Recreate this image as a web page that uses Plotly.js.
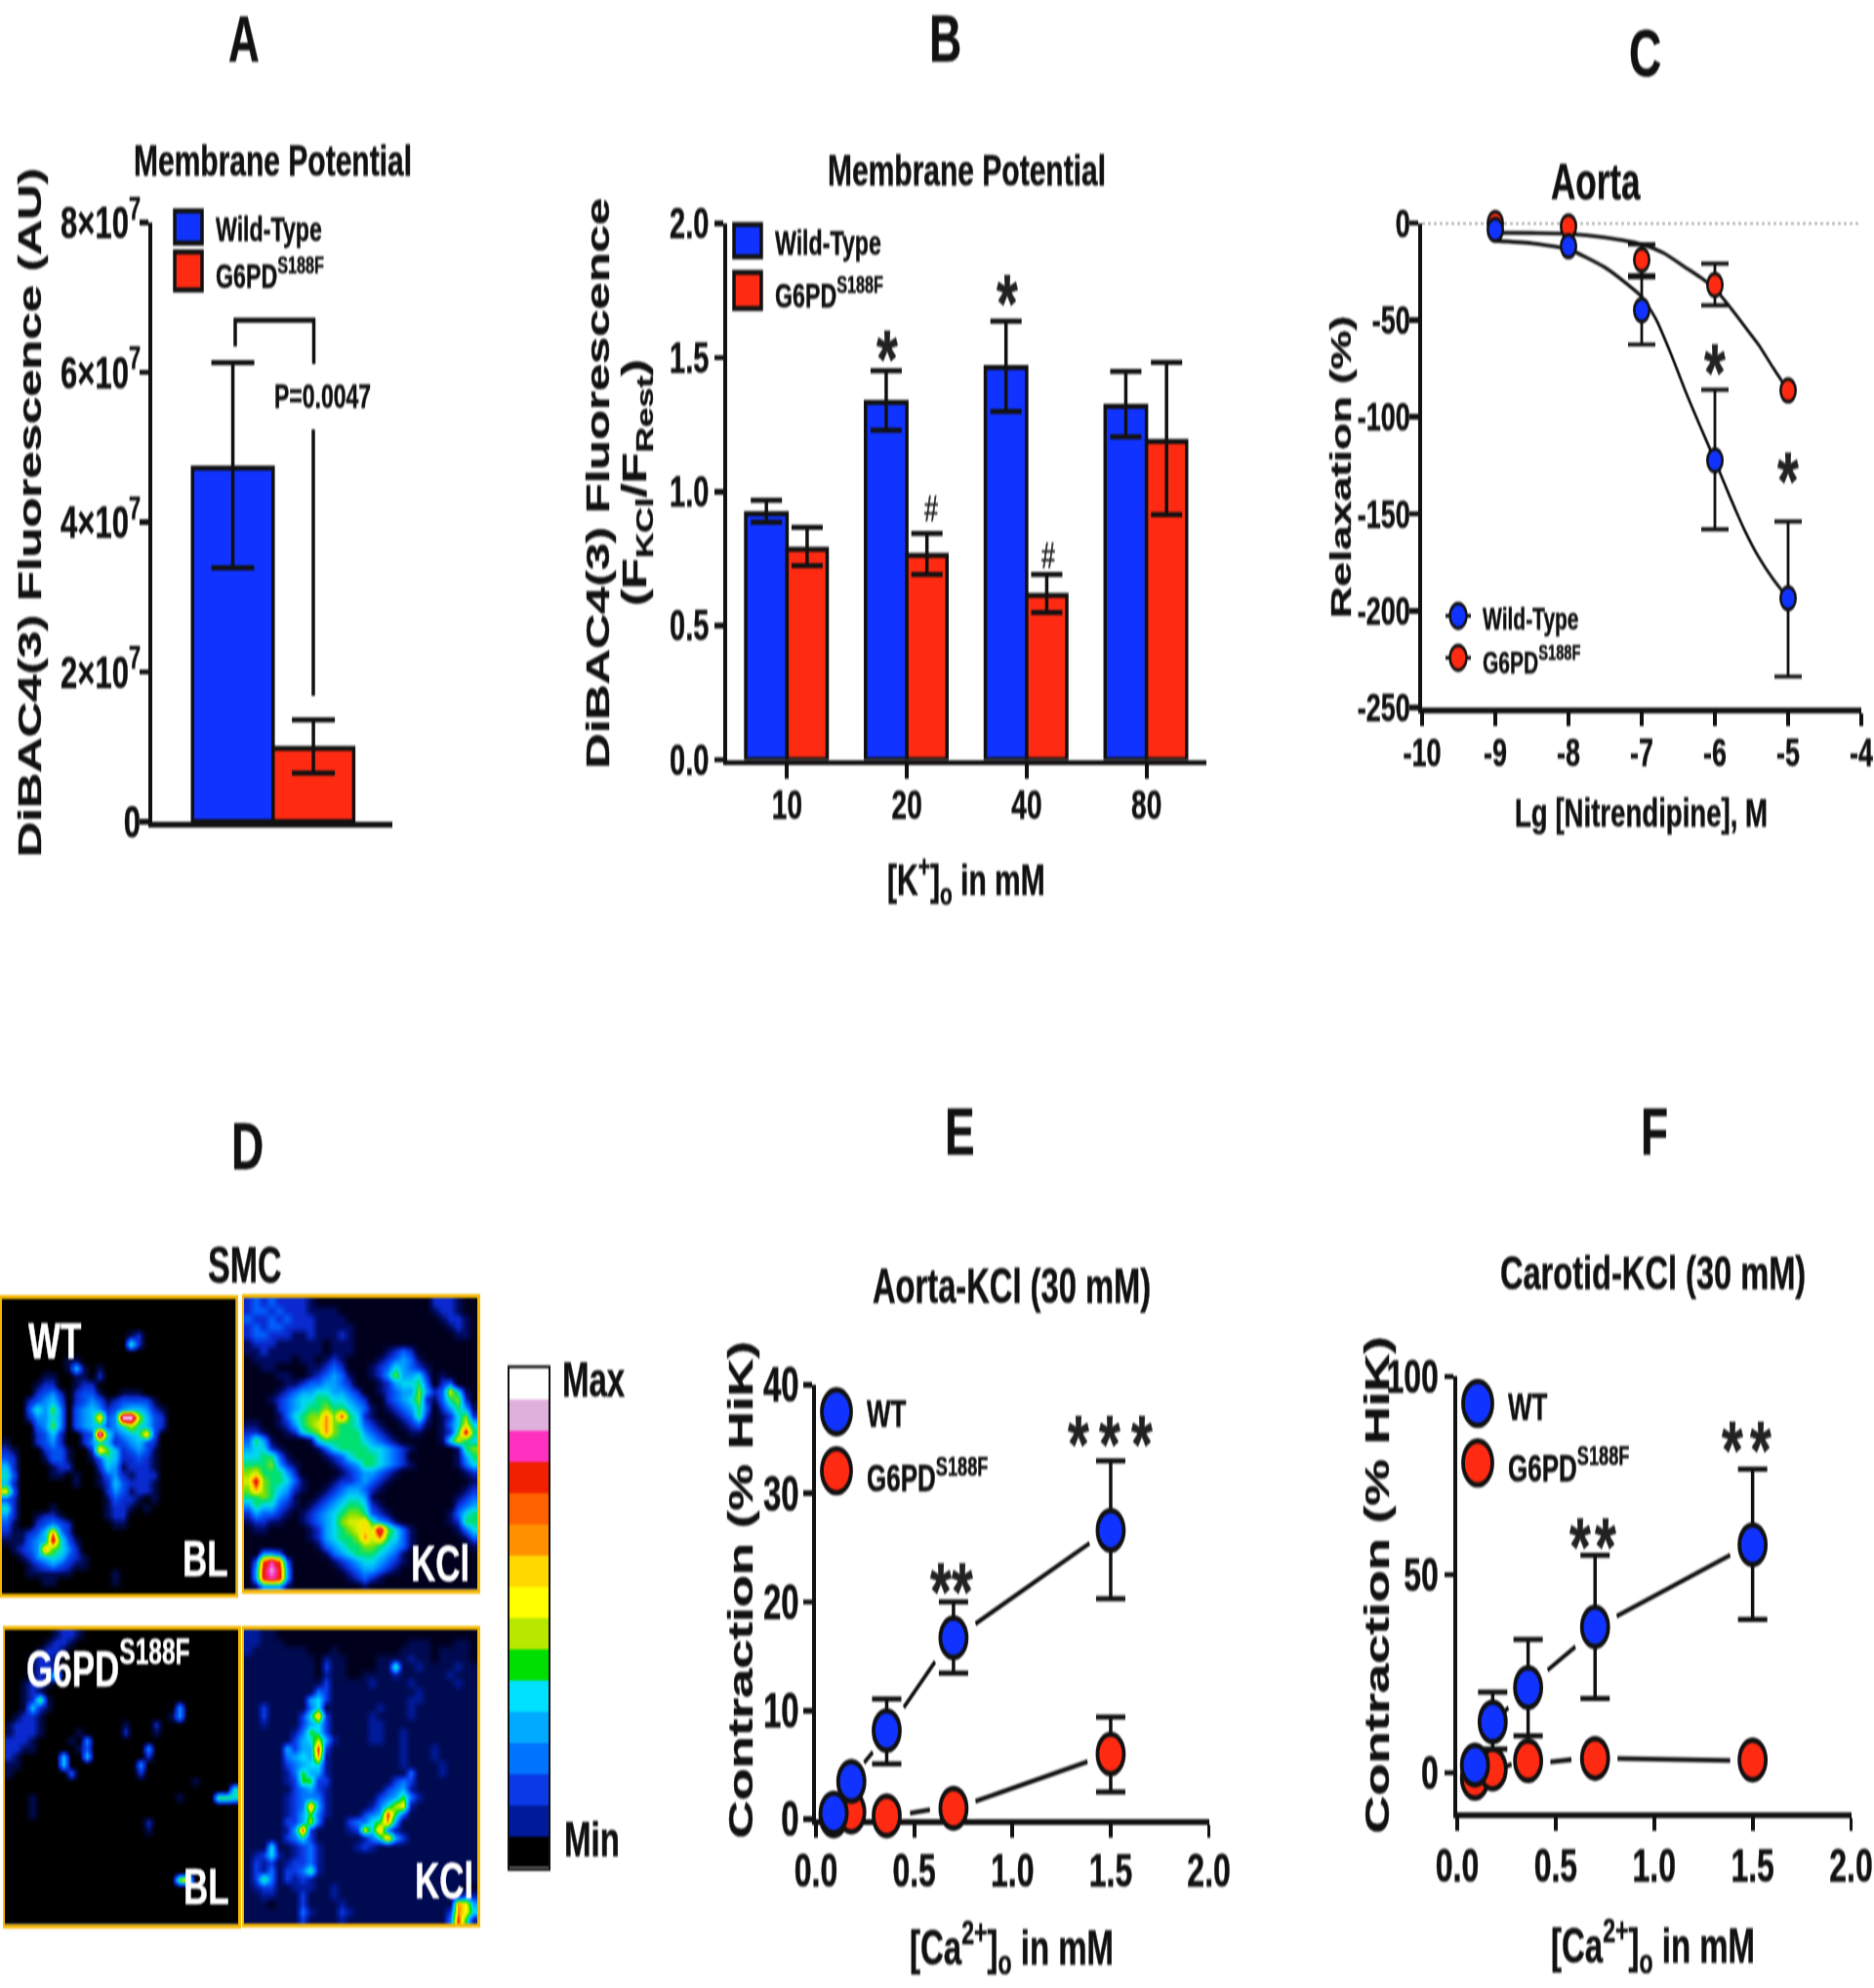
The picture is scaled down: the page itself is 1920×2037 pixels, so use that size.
<!DOCTYPE html>
<html>
<head>
<meta charset="utf-8">
<script src="https://cdn.plot.ly/plotly-3.0.1.min.js"></script>
<style>
html,body{margin:0;padding:0;background:#fff;overflow:hidden;width:1920px;height:2037px}
#plot{width:1920px;height:1358px;transform:scaleY(1.5);transform-origin:0 0;filter:blur(0.6px)}
#plot text{stroke:#111;stroke-width:0.35px}
#plot text[style*="rgb(255, 255, 255)"]{stroke:#fff}
</style>
</head>
<body>
<div id="plot"></div>
<script>
/* ---------- colours and text ---------- */
var BLUE='#1033ff', RED='#ff2a12', INK='#111111';
var WT_LABEL='Wild-Type', MUT_LABEL='G6PD<sup>S188F</sup>';

/* ---------- Panel A ---------- */
var aWT=[4.72e7], aWTup=[6.13e7], aWTlo=[3.39e7];
var aMut=[0.98e7], aMutUp=[1.36e7], aMutLo=[0.65e7];
var aTicks=[0,2e7,4e7,6e7,8e7];
var aTickText=['0','2×10<sup>7</sup>','4×10<sup>7</sup>','6×10<sup>7</sup>','8×10<sup>7</sup>'];

/* ---------- Panel B ---------- */
var bCats=['10','20','40','80'];
var bWT=[0.918,1.333,1.463,1.318], bWTup=[0.968,1.451,1.636,1.448], bWTlo=[0.886,1.229,1.299,1.204];
var bMut=[0.785,0.762,0.613,1.187], bMutUp=[0.867,0.844,0.691,1.482], bMutLo=[0.724,0.691,0.549,0.914];
var bTicks=[0,0.5,1,1.5,2];

/* ---------- Panel C ---------- */
var cX=[-9,-8,-7,-6,-5];
var cWT=[-3.5,-12,-45,-122.5,-193.6], cWTup=[null,null,-27,-86,-154], cWTlo=[null,null,-62.7,-158,-234];
var cMut=[0,-1.7,-19,-32,-86.4], cMutUp=[null,null,-11,-21,null], cMutLo=[null,null,-28,-42.5,null];
var cWTCurveX=[-9,-8.5,-8,-7.5,-7.2,-7,-6.8,-6.6,-6.4,-6.2,-6,-5.8,-5.6,-5.4,-5.2,-5];
var cWTCurveY=[-9.2,-10.5,-13.6,-23,-31.5,-38,-50,-67.6,-87,-105,-122.5,-140.8,-158,-172.5,-184,-193.6];
var cMutCurveX=[-9,-8.5,-8,-7.5,-7,-6.7,-6.4,-6.2,-6,-5.8,-5.6,-5.4,-5.2,-5];
var cMutCurveY=[-5,-5.2,-5.6,-7.5,-11,-15.5,-23,-28,-34,-43,-53,-63,-75,-86.4];
var cXTicks=[-10,-9,-8,-7,-6,-5,-4], cXText=['-10','-9','-8','-7','-6','-5','-4'];
var cYTicks=[-250,-200,-150,-100,-50,0], cYText=['-250','-200','-150','-100','-50','0'];

/* ---------- Panel E ---------- */
var caX=[0.09,0.18,0.36,0.7,1.5];
var caTicks=[0,0.5,1,1.5,2], caText=['0.0','0.5','1.0','1.5','2.0'];
var eWT=[0.56,3.47,8.16,16.7,26.6], eWTup=[null,null,11.06,20,33], eWTlo=[null,null,5.1,13.45,20.3];
var eMut=[0.3,0.65,0.3,1,6], eMutUp=[null,null,null,null,9.4], eMutLo=[null,null,null,null,2.5];
var eWTLineX=[0.245,0.289,null,0.447,0.606,null,0.812,1.392];
var eWTLineY=[5.2,6.16,null,10.3,14.5,null,18,25.4];
var eMutLineX=[0.479,0.58,null,0.812,1.382];
var eMutLineY=[0.56,0.87,null,1.65,5.3];

/* ---------- Panel F ---------- */
var fWT=[1.9,12.8,21.5,36.8,57.5], fWTup=[null,20.3,33.6,54.9,76.6], fWTlo=[null,6,9.3,18.7,38.7];
var fMut=[-1.4,0.9,3,3.6,3.2];
var fWTLineX=[0.234,0.26,null,0.459,0.6,null,0.81,1.386];
var fWTLineY=[15.2,16.4,null,25.9,31.8,null,39.5,54.9];
var fMutLineX=[0.24,0.276,null,0.473,0.58,null,0.814,1.386];
var fMutLineY=[1.5,2.1,null,2.7,3.3,null,3.6,3.1];

/* ---------- Panel D: fluorescence levels read by eye, 0..f ---------- */
var wtBL=[
"000000000000000000000000000000",
"000000000000000000000000000000",
"000000000000000000000000000000",
"000000000000000000000000000000",
"000000000000000012000000000000",
"000000000000000062000000000000",
"000000000000000000000000000000",
"000000001100000000000000000000",
"000000001510100000000000000000",
"000001100110200000000000000000",
"000012200122000000000000000000",
"000023420233100111000000000000",
"000234530234312333310000000000",
"000364740345423455421000000000",
"000244640345a34ff8532000000000",
"000034740345534686532000000000",
"000023520023f63456a30000000000",
"100023420024652345320000000000",
"210002331002a75234310000000000",
"320001331001365223210000000000",
"520000122000254122210000000000",
"630000110100134212220000000000",
"520000000100125322210000000000",
"930000000000024312210000000000",
"320000000000013221010000000000",
"620000100000012210100000000000",
"420012210000012200000000000000",
"310023432000001100000000000000",
"211235a42000000000000000000000",
"111345c63100000000000000000000",
"01234a764200000000000000000000",
"001245653210000000000000000000",
"000123432110000000000000000000",
"000111111000001000000000000000",
"000001100000001000000000000000",
"000000000000000000000000000000"];
var wtKCl=[
"232322221000000000000000222100",
"233232221111000000000000122100",
"322323222111100000000000012210",
"232332222111110000000000001210",
"233222112111210000000000000110",
"122211111101110000000000000000",
"112111111101110000123200000000",
"011111011012100001234310000000",
"001100001123200012354321000000",
"000011001234310012474452010000",
"000001123344320001245563023000",
"000012344554432001234474238510",
"000123455665543200234572136720",
"000023456676654310123463024641",
"00001356 77a7b65210012362012572".replace(' ',''),
"110012467 8a76653210012310135 85".replace(/ /g,''),
"221001256 7a76664321001100126c6".replace(/ /g,''),
"364100001566666543210000015865",
"455210000135666655432100000167",
"556631000012356665432000000146",
"666742100001234665432100000135",
"786664200000123443210000000012",
"8c7665310001223432100000000001",
"7a7654210012344321000000000012",
"667643100123455410000000000123",
"465532101234566521000000000234",
"243321012345677632100000001356",
"122110012345788964310000001266",
"01100000124567898d753100000135",
"000000001245667a8a653100000013",
"000000000134566776543100000001",
"004430000013456665431000000000",
"03bdb3000001234554321000000000",
"04cec4000000123443210000000000",
"04cdc4000000012321000000000000",
"014441000000000100000000000000"];
var mutBL=[
"000000122100000000000000000000",
"000001221000000000000000000000",
"000012210000000000000000000000",
"000122100000000000000000000000",
"000122100000000000000000000000",
"000121700000000000000000000000",
"001221000000000000000000000000",
"001210000000000000000000000000",
"001271000000000000000000000000",
"001521000000000000000040000000",
"012210000000000000000140000000",
"122210000000000100020000000000",
"122210000100000200010000000000",
"222100001040000000000000000000",
"221100000130000000400000000000",
"210000050050000000200000000000",
"110000050000000004000000000000",
"100000003000000002000000000000",
"000000000000000000000000100000",
"000000000000000000000000000006",
"000100000000000000000010000776",
"000100000000000000000000000000",
"000100000000000000000000000000",
"000000000000000000200000000000",
"000000000000000000100000000000",
"000000000000000000000000000000",
"000000000000000000000000000000",
"000000000000000000000000000000",
"000000000000000000000000000000",
"000000000000000000000000000000",
"00000000000000000000008a000000",
"000000000000000000000000000000",
"000000000000000000000000000000",
"000000000000000000000000000000",
"000000000000000000000000000000",
"000000000000000000000000000000"];
var mutKCl=[
"221100000000000000000000000000",
"221110000000000000000111000110",
"211111110001000000001111011110",
"111111111021100001111211011110",
"111111111031100001171121111211",
"111111111021100111121111112111",
"111111111131111121111211111211",
"111111111431111111111121111111",
"111111115631111111111221111111",
"113111114611111112111211111111",
"113111136a31111121111211111111",
"112111135631111122111111111111",
"111111247631111122112111111111",
"111111356852111122112111111111",
"111115355b31111111112111211111",
"111114565a21111111112111211111",
"111113456621111111112111121111",
"111112475521111111111411121111",
"111112377331111111134311111111",
"111111345321111111345211111111",
"111112344421111113457421111111",
"11111234a521111124689211111111",
"111112357421111345b74111111111",
"111113358411134467a51111111111",
"111112 5b31111239 6a421111111111".replace(/ /g,'').slice(0,30),
"111113463111111246a53111111111",
"111611234211112321111111111111",
"123621234211111111111111111111",
"132312334211111111111111111111",
"132413347211111111111111111111",
"137413232111111111111111111111",
"123311222112111111111111111100",
"112211131112111111111111111132",
"111011131111211111111111111a95",
"111111142111321111111111113a96",
"111111131111211111111111114b72"];
var barLevels=['#000000','#001a9c','#0a3ae6','#0073ff','#00aaff','#00e0ff','#00e000','#b8e800',
               '#ffff00','#ffd800','#ff9000','#ff6000','#f02000','#ff30c0','#e0b0dc','#ffffff'];
var blackLevels=['#000000','#000a50','#0a2ad0','#0050f0','#0090ff','#00c0ff','#00e0c0','#40e000',
                 '#b8e800','#ffff00','#ff9000','#f02000','#f02000','#ff30c0','#e0b0dc','#ffffff'];
var navyLevels=['#00001c','#000a50','#001a9c','#0a3ae6','#0073ff','#00aaff','#00e0ff','#00e000',
                '#b8e800','#ffff00','#ff9000','#f02000','#f02000','#ff30c0','#e0b0dc','#ffffff'];
var greenLevels=['#00001c','#000a60','#0a2ad0','#0060ff','#00a0ff','#00d8f0','#00e070','#80e000',
                 '#e0f000','#ffe000','#ff9000','#f02000','#f02000','#ff30c0','#e0b0dc','#ffffff'];
var scaleRows=[[15],[14],[13],[12],[11],[10],[9],[8],[7],[6],[5],[4],[3],[2],[1],[0]];

/* ---------- helpers ---------- */
var FW=1920, FH=2037, LH=FH/1.5;
function fx(p){return p/FW;}
function fy(p){return 1-p/FH;}
function domX(a,b){return [a/FW,b/FW];}
function domY(top,bot){return [1-bot/FH,1-top/FH];}
var FONT='"Liberation Sans",Arial,sans-serif';
var anns=[], shapes=[];
function label(t,x,y,size,o){o=o||{};
  anns.push({text:t,x:fx(x),y:fy(y),xref:'paper',yref:'paper',showarrow:false,
    xanchor:o.anchor||'center',yanchor:'middle',textangle:o.angle||0,
    font:{family:FONT,size:size,color:o.color||INK,weight:o.weight||700}});
}
function star(xa,ya,x,y){
  anns.push({text:'*',x:x,y:y,xref:xa,yref:ya,showarrow:false,xanchor:'center',yanchor:'middle',
    yshift:-9,font:{family:FONT,size:56,color:'#222',weight:700}});
}
function hash(xa,ya,x,y){
  anns.push({text:'#',x:x,y:y,xref:xa,yref:ya,showarrow:false,xanchor:'center',yanchor:'middle',
    font:{family:FONT,size:25,color:'#222',weight:400}});
}
function rectLegend(x0,y0,x1,y1,c){
  shapes.push({type:'rect',xref:'paper',yref:'paper',x0:fx(x0),x1:fx(x1),y0:fy(y0),y1:fy(y1),
    fillcolor:c,line:{color:INK,width:3.5}});
}
function dotLegend(x,y,d,c,lw){
  var r=d/2;
  shapes.push({type:'circle',xref:'paper',yref:'paper',x0:(x-r)/FW,x1:(x+r)/FW,
    y0:fy(y)-r/LH,y1:fy(y)+r/LH,fillcolor:c,line:{color:INK,width:lw}});
}
function tfont(s){return {family:FONT,size:s,color:INK,weight:700};}
function axis(dom,range,extra){
  var a={domain:dom,range:range,showgrid:false,zeroline:false,showline:true,linecolor:INK,linewidth:3.8,
    ticks:'outside',ticklen:9,tickwidth:3.8,tickcolor:INK,layer:'below traces',tickfont:tfont(28)};
  for(var k in extra){a[k]=extra[k];}
  return a;
}
function anchor(a,other){a.anchor=other;return a;}
function errBars(up,lo,vals,w,t){
  return {type:'data',symmetric:false,
    array:up.map(function(u,i){return u===null?NaN:u-vals[i];}),
    arrayminus:lo.map(function(l,i){return l===null?NaN:vals[i]-l;}),
    color:INK,thickness:t||3.5,width:w};
}
function barTrace(x,y,c,off,wid,err,xa,ya){
  return {type:'bar',x:x,y:y,xaxis:xa,yaxis:ya,width:wid,offset:off,
    marker:{color:c,line:{color:INK,width:3.5}},error_y:err,showlegend:false,hoverinfo:'skip',cliponaxis:false};
}
function lineTrace(x,y,xa,ya,w,spline){
  return {type:'scatter',mode:'lines',x:x,y:y,xaxis:xa,yaxis:ya,showlegend:false,hoverinfo:'skip',
    cliponaxis:false,connectgaps:false,line:{color:INK,width:w,shape:spline?'spline':'linear',smoothing:0.6}};
}
function dotTrace(x,y,c,size,lw,err,xa,ya){
  var t={type:'scatter',mode:'markers',x:x,y:y,xaxis:xa,yaxis:ya,showlegend:false,hoverinfo:'skip',cliponaxis:false,
    marker:{color:c,size:size,line:{color:INK,width:lw}}};
  if(err){t.error_y=err;}
  return t;
}
function toLevels(rows){
  return rows.map(function(r){return r.padEnd(30,'0').slice(0,30).split('').map(function(ch){return parseInt(ch,16);});});
}
function toScale(list){return list.map(function(c,i){return [i/15,c];});}

/* ---------- traces ---------- */
var traces=[];
/* A */
traces.push(barTrace([1],aWT,BLUE,-0.5,1,errBars(aWTup,aWTlo,aWT,22),'x','y'));
traces.push(barTrace([2],aMut,RED,-0.5,1,errBars(aMutUp,aMutLo,aMut,22),'x','y'));
/* B */
var bPos=bCats.map(function(c,i){return i+1;});
traces.push(barTrace(bPos,bWT,BLUE,-0.345,0.345,errBars(bWTup,bWTlo,bWT,16),'x2','y2'));
traces.push(barTrace(bPos,bMut,RED,0,0.335,errBars(bMutUp,bMutLo,bMut,16),'x2','y2'));
/* C */
traces.push(lineTrace(cWTCurveX,cWTCurveY,'x3','y3',2.6,true));
traces.push(lineTrace(cMutCurveX,cMutCurveY,'x3','y3',2.6,true));
traces.push(dotTrace(cX,cMut,RED,15.5,2.5,errBars(cMutUp,cMutLo,cMut,14,2.8),'x3','y3'));
traces.push(dotTrace(cX,cWT,BLUE,15.5,2.5,errBars(cWTup,cWTlo,cWT,14,2.8),'x3','y3'));
/* E */
traces.push(lineTrace(eWTLineX,eWTLineY,'x4','y4',3.2));
traces.push(lineTrace(eMutLineX,eMutLineY,'x4','y4',3.2));
traces.push(dotTrace(caX,eMut,RED,27,3.8,errBars(eMutUp,eMutLo,eMut,15),'x4','y4'));
traces.push(dotTrace(caX,eWT,BLUE,27,3.8,errBars(eWTup,eWTlo,eWT,15),'x4','y4'));
/* F */
traces.push(lineTrace(fWTLineX,fWTLineY,'x5','y5',3.2));
traces.push(lineTrace(fMutLineX,fMutLineY,'x5','y5',3.2));
traces.push(dotTrace(caX,fMut,RED,27,3.8,null,'x5','y5'));
traces.push(dotTrace(caX,fWT,BLUE,27,3.8,errBars(fWTup,fWTlo,fWT,15),'x5','y5'));
/* D */
var imgs=[[wtBL,blackLevels],[wtKCl,greenLevels],[mutBL,blackLevels],[mutKCl,navyLevels]];
imgs.forEach(function(m,i){
  traces.push({type:'heatmap',z:toLevels(m[0]),xaxis:'x'+(6+i),yaxis:'y'+(6+i),zmin:0,zmax:15,
    colorscale:toScale(m[1]),zsmooth:'best',showscale:false,hoverinfo:'skip'});
});
traces.push({type:'heatmap',z:scaleRows,xaxis:'x10',yaxis:'y10',zmin:0,zmax:15,colorscale:toScale(barLevels),
  zsmooth:false,showscale:false,hoverinfo:'skip'});

/* ---------- layout ---------- */
var layout={width:FW,height:LH,margin:{l:0,r:0,t:0,b:0,pad:0},paper_bgcolor:'#fff',plot_bgcolor:'rgba(0,0,0,0)',
  barmode:'overlay',showlegend:false,hovermode:false,font:{family:FONT}};

/* A axes */
layout.xaxis=anchor(axis(domX(156,402),[0,2.98],{showticklabels:false,ticks:'',tickvals:[]}),'y');
layout.yaxis=anchor(axis(domY(228,842),[0,8e7],{tickvals:aTicks,ticktext:aTickText,tickfont:tfont(31),ticklabelstandoff:-7}),'x');
/* B axes */
layout.xaxis2=anchor(axis(domX(745,1236),[0.5,4.5],{tickvals:bPos,ticktext:bCats,ticklabelstandoff:-6}),'y2');
layout.yaxis2=anchor(axis(domY(229,778.5),[0,2],{tickvals:bTicks,ticktext:caText,tickfont:tfont(29)}),'x2');
/* C axes */
layout.xaxis3=anchor(axis(domX(1457,1907),[-10,-4],{tickvals:cXTicks,ticktext:cXText,tickfont:tfont(27),ticklabelstandoff:-5}),'y3');
layout.yaxis3=anchor(axis(domY(228.5,725),[-250,0],{tickvals:cYTicks,ticktext:cYText,tickfont:tfont(27),ticklabelstandoff:-6}),'x3');
/* E axes */
layout.xaxis4=anchor(axis(domX(836,1238.6),[0,2],{tickvals:caTicks,ticktext:caText,tickfont:tfont(32),ticklabelstandoff:-5}),'y4');
layout.yaxis4=anchor(axis(domY(1419,1864),[0,40],{tickvals:[0,10,20,30,40],tickfont:tfont(33),ticklabelstandoff:-2}),'x4');
/* F axes */
layout.xaxis5=anchor(axis(domX(1493,1896.5),[0,2],{tickvals:caTicks,ticktext:caText,tickfont:tfont(32),ticklabelstandoff:-4}),'y5');
layout.yaxis5=anchor(axis(domY(1410.4,1857),[-10,100],{tickvals:[0,50,100],tickfont:tfont(32)}),'x5');
/* D frames */
var frames=[[2,241.5,1330.5,1633],[250,489,1330,1629],[5,244,1670,1972],[250,489,1670,1971]];
frames.forEach(function(f,i){
  var n=6+i;
  layout['xaxis'+n]={domain:domX(f[0],f[1]),anchor:'y'+n,range:[-0.5,29.5],showticklabels:false,ticks:'',showgrid:false,zeroline:false,
    showline:true,mirror:true,linecolor:'#f5b800',linewidth:2.5,layer:'above traces'};
  layout['yaxis'+n]={domain:domY(f[2],f[3]),anchor:'x'+n,range:[35.5,-0.5],showticklabels:false,ticks:'',showgrid:false,zeroline:false,
    showline:true,mirror:true,linecolor:'#f5b800',linewidth:2.5,layer:'above traces'};
});
layout.xaxis10={domain:domX(522,562),anchor:'y10',range:[-0.5,0.5],showticklabels:false,ticks:'',showgrid:false,zeroline:false,
  showline:true,mirror:true,linecolor:INK,linewidth:2,layer:'above traces'};
layout.yaxis10={domain:domY(1402,1913.5),anchor:'x10',range:[15.5,-0.5],showticklabels:false,ticks:'',showgrid:false,zeroline:false,
  showline:true,mirror:true,linecolor:INK,linewidth:2,layer:'above traces'};

/* panel letters */
label('A',250,39,44); label('B',968,39,46); label('C',1685.5,54.5,46);
label('D',253.7,1174,46); label('E',983,1160,46); label('F',1695,1160,46);

/* A text and marks */
label('Membrane Potential',279,164,30);
label('DiBAC4(3) Fluorescence (AU)',30.6,525,33.5,{angle:-90});
rectLegend(179,216,207,249,BLUE); rectLegend(179,258,207,297,RED);
label(WT_LABEL,219,235,23.2,{anchor:'left'}); label(MUT_LABEL,219,281,23.2,{anchor:'left'});
label('P=0.0047',330.6,407,23);
shapes.push({type:'path',xref:'paper',yref:'paper',
  path:'M '+fx(241)+' '+fy(355)+' L '+fx(241)+' '+fy(328)+' L '+fx(321.5)+' '+fy(328)+' L '+fx(321.5)+' '+fy(373),
  line:{color:INK,width:3.5},fillcolor:'rgba(0,0,0,0)'});
shapes.push({type:'line',xref:'paper',yref:'paper',x0:fx(321),x1:fx(321),y0:fy(440),y1:fy(713),line:{color:INK,width:3.5}});

/* B text and marks */
label('Membrane Potential',990,174,30);
label('DiBAC4(3) Fluorescence',612,495,33.4,{angle:-90});
label('(F<sub>KCl</sub>/F<sub>Rest</sub>)',652,495,34.5,{angle:-90});
label('[K<sup>+</sup>]<sub>o</sub> in mM',990,902,30);
rectLegend(752,230,780,263,BLUE); rectLegend(752,279,780,316,RED);
label(WT_LABEL,792,249,23.2,{anchor:'left'}); label(MUT_LABEL,792,300,23.2,{anchor:'left'});
star('x2','y2',1.84,1.54); star('x2','y2',2.84,1.75);
hash('x2','y2',2.2,0.937); hash('x2','y2',3.18,0.766);

/* C text and marks */
label('Aorta',1635,185,35);
label('Relaxation (%)',1373,479,30,{angle:-90});
label('Lg [Nitrendipine], M',1681.6,833.5,27.6);
shapes.push({type:'line',xref:'x3',yref:'y3',x0:-10,x1:-4,y0:0,y1:0,layer:'below',line:{color:'#666',width:1.6,dash:'dot'}});
shapes.push({type:'line',xref:'paper',yref:'paper',x0:fx(1481),x1:fx(1507),y0:fy(631),y1:fy(631),line:{color:INK,width:2.6}});
shapes.push({type:'line',xref:'paper',yref:'paper',x0:fx(1481),x1:fx(1507),y0:fy(674),y1:fy(674),line:{color:INK,width:2.6}});
dotLegend(1494,631,17,BLUE,2.5); dotLegend(1494,674,17,RED,2.5);
label(WT_LABEL,1517,633,21,{anchor:'left'}); label(MUT_LABEL,1517,677,21,{anchor:'left'});
star('x3','y3',-6,-70); star('x3','y3',-5,-126);

/* D text */
label('SMC',250.6,1296.6,34);
label('WT',55.5,1373,35,{color:'#fff'});
label('BL',210,1596.6,35,{color:'#fff'});
label('KCl',451,1600.7,35,{color:'#fff'});
label('G6PD<sup>S188F</sup>',25,1705,35,{color:'#fff',anchor:'left'});
label('BL',211,1933,35,{color:'#fff'});
label('KCl',455,1927,35,{color:'#fff'});
label('Max',574,1414,33,{anchor:'left'});
label('Min',576,1885,33,{anchor:'left'});

/* E text and marks */
label('Aorta-KCl (30 mM)',1036,1317,32.7);
label('Contraction (% HiK)',758,1629,36,{angle:-90});
label('[Ca<sup>2+</sup>]<sub>o</sub> in mM',1036,1996,33);
dotLegend(857,1446.6,30,BLUE,3.8); dotLegend(857,1507,30,RED,3.8);
label('WT',886,1449,26,{anchor:'left'}); label(MUT_LABEL,886,1512,26,{anchor:'left'});
star('x4','y4',1.335,35.7); star('x4','y4',1.497,35.7); star('x4','y4',1.658,35.7);
star('x4','y4',0.637,22.1); star('x4','y4',0.745,22.1);

/* F text and marks */
label('Carotid-KCl (30 mM)',1693,1304,32.6);
label('Contraction (% HiK)',1411,1624,36,{angle:-90});
label('[Ca<sup>2+</sup>]<sub>o</sub> in mM',1693,1994.6,33);
dotLegend(1514,1438,30,BLUE,3.8); dotLegend(1514,1499,30,RED,3.8);
label('WT',1543,1441,26,{anchor:'left'}); label(MUT_LABEL,1543,1502,26,{anchor:'left'});
star('x5','y5',0.623,60.3); star('x5','y5',0.754,60.3);
star('x5','y5',1.40,84.6); star('x5','y5',1.54,84.6);

layout.annotations=anns; layout.shapes=shapes;
Plotly.newPlot('plot',traces,layout,{displayModeBar:false,staticPlot:true,responsive:false});
</script>
</body>
</html>
